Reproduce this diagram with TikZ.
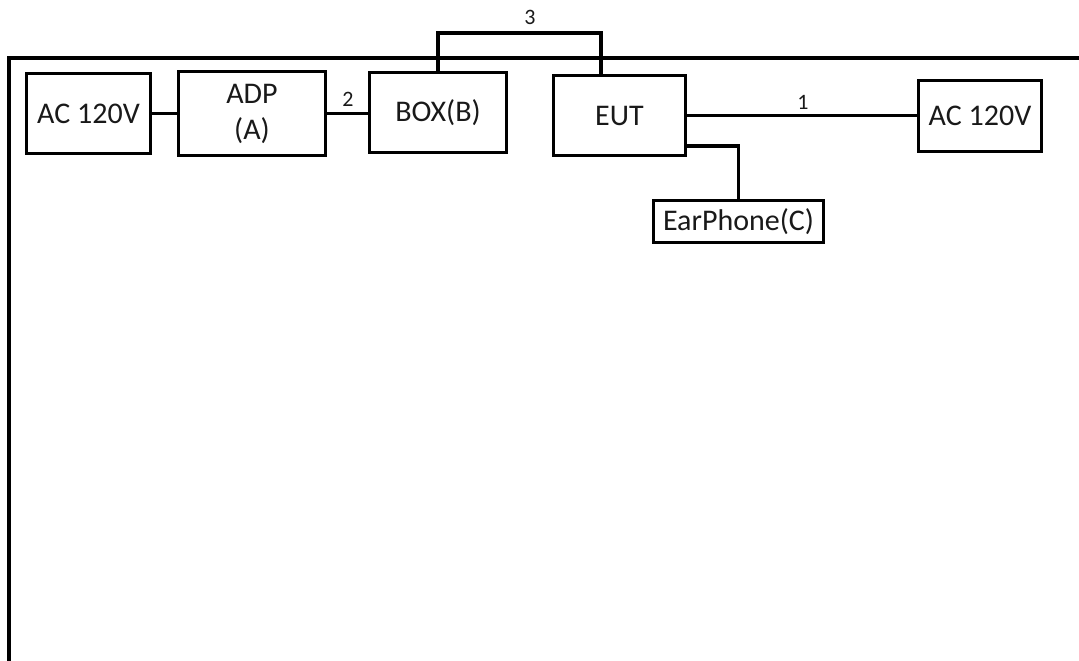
\documentclass[tikz,border=0pt]{standalone}
\usepackage{fontspec}
\setmainfont{Carlito}
\begin{document}
\begin{tikzpicture}[x=1pt,y=1pt,
  box/.style={draw=black,line width=3.5pt,rectangle,inner sep=0pt,font=\fontsize{30}{36}\selectfont,align=center,text=black!90},
  wire/.style={line width=3.5pt},
  lbl/.style={font=\fontsize{22}{26}\selectfont,inner sep=0pt,text=black!90}]
\useasboundingbox (0,0) rectangle (1079,-661);
% outer frame
\coordinate (fb) at (9,-663);
\coordinate (fc) at (9,-58);
\coordinate (fr) at (1081,-58);
\draw[wire] (fb) -- (fc) -- (fr);
% boxes
\node[box,minimum width=124pt,minimum height=80pt] (acl) at (88.5,-113.5) {AC 120V};
\node[box,minimum width=147pt,minimum height=84pt] (adp) at (252,-113.5) {ADP\\(A)};
\node[box,minimum width=137pt,minimum height=80pt] (bx) at (438,-112.5) {BOX(B)};
\node[box,minimum width=132pt,minimum height=80pt] (eut) at (619.5,-115.5) {EUT};
\node[box,minimum width=123pt,minimum height=71pt] (acr) at (980,-116) {AC 120V};
\node[box,minimum width=170pt,minimum height=42pt] (ear) at (738.5,-221.5) {EarPhone(C)};
% connectors
\draw[wire] (acl.east) -- (adp.west);
\draw[wire] (adp.east) -- (adp.east -| bx.west);
\coordinate (c3) at (601,-33);
\draw[wire] (bx.north) |- (c3) -- (c3 |- eut.north);
\draw[wire] (eut.east) -- (eut.east -| acr.west);
\draw[wire] ([yshift=-30.5pt]eut.east) -| (ear.north);
% labels
\node[lbl] (l2) at (348,-99) {2};
\node[lbl] (l3) at (530,-17) {3};
\node[lbl] (l1) at (803,-102) {1};
\end{tikzpicture}
\end{document}
